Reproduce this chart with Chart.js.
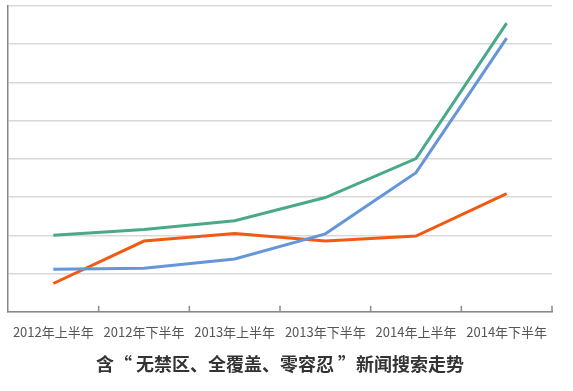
<!DOCTYPE html>
<html>
<head>
<meta charset="utf-8">
<script src="https://cdn.jsdelivr.net/npm/chart.js@4"></script>
<style>
  html, body { margin: 0; padding: 0; background: #fff; }
  #wrap { width: 573px; height: 391px; }
</style>
</head>
<body>
<div id="wrap"><canvas id="c" width="573" height="391"></canvas></div>
<script>
// Half-year periods on the x axis
const periods = ['2012年上半年', '2012年下半年', '2013年上半年', '2013年下半年', '2014年上半年', '2014年下半年']

// Relative search volume (one grid step = 1)
const greenSeries  = [2.0, 2.15, 2.38, 2.99, 4.01, 7.55]
const blueSeries   = [1.11, 1.14, 1.38, 2.04, 3.64, 7.16]
const orangeSeries = [0.74, 1.85, 2.05, 1.85, 1.98, 3.09]

const titleText = '含“ 无禁区、全覆盖、零容忍 ”新闻搜索走势'

const line = (data, color) => ({
  data,
  borderColor: color,
  borderWidth: 3,
  pointRadius: 0,
  tension: 0,
  fill: false,
})

// small tick marks at the category boundaries, pointing up into the plot
const boundaryTicks = {
  id: 'boundaryTicks',
  afterDraw(chart) {
    const { ctx, scales: { x } } = chart
    const y = x.top
    ctx.save()
    ctx.strokeStyle = '#888'
    ctx.lineWidth = 1.5
    for (let i = 1; i <= periods.length; i++) {
      const px = i < periods.length
        ? (x.getPixelForValue(i - 1) + x.getPixelForValue(i)) / 2
        : x.right
      ctx.beginPath()
      ctx.moveTo(px, y)
      ctx.lineTo(px, y - 6)
      ctx.stroke()
    }
    ctx.restore()
  },
}

new Chart(document.getElementById('c'), {
  type: 'line',
  data: {
    labels: periods,
    datasets: [
      line(greenSeries, '#4aa98b'),
      line(blueSeries, '#6596d9'),
      line(orangeSeries, '#f05a12'),
    ],
  },
  options: {
    responsive: false,
    animation: false,
    layout: { padding: { left: 8, right: 21, top: 6, bottom: 8 } },
    scales: {
      x: {
        offset: true,
        grid: { display: false },
        border: { color: '#888', width: 1.5 },
        ticks: {
          color: '#555',
          padding: 4,
          maxRotation: 0,
          font: { size: 13, family: "'Liberation Sans Narrow', 'Noto Sans CJK SC', sans-serif" },
        },
      },
      y: {
        min: 0, max: 8,
        ticks: { stepSize: 1, display: false },
        grid: { color: '#d9d9d9', lineWidth: 1.5, drawTicks: false },
        border: { color: '#888', width: 1.5 },
      },
    },
    plugins: {
      legend: { display: false },
      tooltip: { enabled: false },
      title: {
        display: true,
        position: 'bottom',
        text: titleText,
        color: '#333',
        padding: { top: 10, bottom: 8 },
        font: { size: 18, weight: 'bold', family: "'Noto Sans CJK SC', sans-serif" },
      },
    },
  },
  plugins: [boundaryTicks],
})
</script>
</body>
</html>
